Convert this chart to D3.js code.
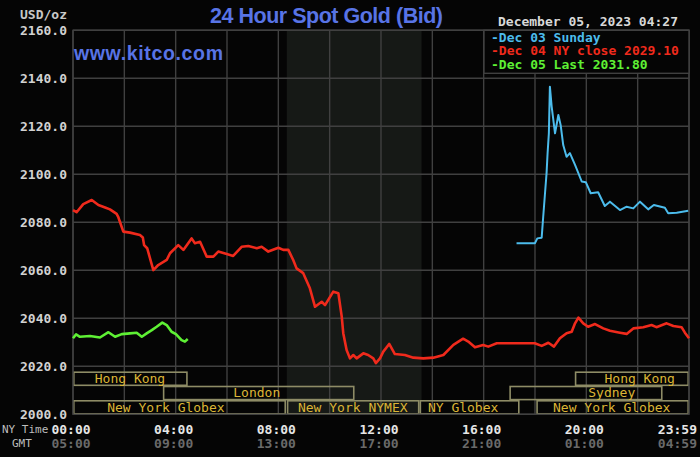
<!DOCTYPE html>
<html>
<head>
<meta charset="utf-8">
<script src="https://cdn.jsdelivr.net/npm/d3@7"></script>
<style>
  html, body { margin: 0; padding: 0; background: #050505; }
  svg { display: block; }
</style>
</head>
<body>
<div id="gold_chart"></div>
<script>
// Hours after midnight (NY time) and bid prices
var dec03Hours = [17.28, 18.0, 18.09, 18.26, 18.32, 18.39, 18.45, 18.49, 18.54, 18.58, 18.65, 18.78, 18.91, 19.0, 19.1, 19.23, 19.36, 19.56, 19.82, 19.98, 20.17, 20.46, 20.72, 20.92, 21.31, 21.57, 21.83, 22.09, 22.41, 22.63, 23.06, 23.19, 23.52, 23.97];
var dec03Values = [2071.3, 2071.3, 2073.3, 2073.6, 2082.3, 2092.1, 2100.4, 2108.8, 2117.1, 2136.5, 2128.2, 2117.1, 2124.7, 2120.5, 2112.2, 2107.3, 2108.8, 2103.9, 2097.0, 2096.7, 2092.1, 2092.5, 2086.8, 2088.6, 2085.1, 2086.5, 2085.8, 2088.6, 2085.4, 2087.2, 2086.1, 2083.8, 2084.0, 2084.8];

var dec04Hours = [0, 0.14, 0.40, 0.73, 0.99, 1.25, 1.44, 1.70, 1.76, 1.96, 2.22, 2.61, 2.72, 2.77, 2.89, 3.13, 3.32, 3.65, 3.78, 4.10, 4.30, 4.62, 4.75, 4.95, 5.21, 5.47, 5.66, 5.99, 6.24, 6.57, 6.83, 7.16, 7.35, 7.61, 8.00, 8.19, 8.39, 8.58, 8.71, 8.97, 9.23, 9.43, 9.69, 9.82, 10.14, 10.34, 10.47, 10.53, 10.66, 10.79, 10.92, 11.05, 11.31, 11.50, 11.70, 11.80, 11.96, 12.09, 12.32, 12.54, 12.93, 13.26, 13.65, 14.04, 14.43, 14.82, 15.20, 15.40, 15.66, 15.98, 16.18, 16.51, 17.02, 17.41, 17.99, 18.26, 18.52, 18.74, 18.97, 19.23, 19.43, 19.56, 19.69, 19.88, 20.07, 20.34, 20.66, 20.92, 21.31, 21.57, 21.83, 22.22, 22.54, 22.73, 23.13, 23.39, 23.71, 23.84, 24.0];
var dec04Values = [2085.1, 2084.2, 2087.6, 2089.3, 2087.2, 2086.2, 2085.4, 2083.5, 2082.3, 2076.1, 2075.7, 2074.7, 2073.7, 2070.5, 2069.2, 2060.1, 2062.2, 2064.3, 2067.1, 2070.5, 2068.5, 2073.3, 2071.3, 2071.9, 2065.7, 2065.7, 2067.8, 2066.8, 2066.0, 2069.8, 2070.1, 2069.2, 2069.8, 2067.8, 2069.4, 2068.5, 2068.5, 2064.3, 2060.8, 2058.8, 2052.5, 2044.8, 2046.9, 2045.5, 2051.1, 2050.4, 2040.7, 2033.8, 2026.8, 2023.3, 2024.7, 2023.3, 2025.4, 2024.7, 2023.3, 2021.3, 2023.3, 2026.1, 2029.3, 2025.1, 2024.7, 2023.6, 2023.3, 2023.6, 2024.7, 2028.9, 2031.5, 2030.3, 2027.9, 2028.9, 2028.2, 2029.6, 2029.6, 2029.6, 2029.6, 2028.5, 2029.8, 2028.2, 2031.7, 2033.8, 2034.4, 2037.9, 2040.3, 2037.9, 2036.5, 2037.6, 2035.8, 2034.8, 2034.0, 2033.5, 2035.8, 2036.3, 2037.2, 2036.3, 2037.9, 2036.8, 2036.3, 2034.0, 2031.7];

var dec05Hours = [0, 0.12, 0.27, 0.66, 1.05, 1.38, 1.64, 1.90, 2.22, 2.48, 2.68, 2.87, 3.07, 3.26, 3.48, 3.65, 3.84, 4.01, 4.23, 4.36, 4.47];
var dec05Values = [2031.7, 2033.3, 2032.3, 2032.6, 2032.0, 2034.2, 2032.3, 2033.4, 2033.7, 2034.0, 2032.3, 2033.7, 2035.1, 2036.5, 2038.2, 2037.2, 2034.4, 2033.4, 2030.9, 2030.3, 2031.4];

// Legend entries
var legendLabels = ["-Dec 03 Sunday", "-Dec 04 NY close 2029.10", "-Dec 05 Last 2031.80"];

// Axis ticks
var yTicks = [2000, 2020, 2040, 2060, 2080, 2100, 2120, 2140, 2160];
var xTickHours = [0, 4, 8, 12, 16, 20, 24];
var nyTimeLabels = ["00:00", "04:00", "08:00", "12:00", "16:00", "20:00", "23:59"];
var gmtLabels = ["05:00", "09:00", "13:00", "17:00", "21:00", "01:00", "04:59"];

// Trading sessions: name, row (0 = bottom), start and end hour, hour where the name sits
var sessionNames = ["New York Globex", "New York NYMEX", "NY Globex", "New York Globex", "London", "Sydney", "Hong Kong", "Hong Kong"];
var sessionRows = [0, 0, 0, 0, 1, 1, 2, 2];
var sessionStarts = [0, 8.33, 13.5, 18.05, 3.5, 17.0, 0, 19.55];
var sessionEnds = [8.3, 13.5, 17.4, 24, 10.97, 22.97, 4.47, 24];
var sessionLabelHours = [3.62, 10.9, 15.2, 20.99, 7.16, 20.99, 2.22, 22.08];

// NYMEX pit hours shading
var pitStart = 8.33;
var pitEnd = 13.58;

var w = 700;
var h = 457;
var plotLeft = 73, plotRight = 689, plotTop = 30.3, plotBottom = 414.3;
var mono = "'DejaVu Sans Mono', monospace";

var svg = d3.select("#gold_chart")
    .append("svg")
    .attr("width", w)
    .attr("height", h);

svg.append("rect")
    .attr("width", w)
    .attr("height", h)
    .attr("fill", "#050505");

var xScale = d3.scaleLinear()
    .domain([0, 24])
    .range([plotLeft, plotRight]);

var yScale = d3.scaleLinear()
    .domain([2000, 2160])
    .range([plotBottom, plotTop]);

// Shaded pit session
svg.append("rect")
    .attr("x", xScale(pitStart))
    .attr("y", plotTop)
    .attr("width", xScale(pitEnd) - xScale(pitStart))
    .attr("height", plotBottom - plotTop)
    .attr("fill", "#161916");

// Grid
svg.append("g")
    .selectAll("line")
    .data(d3.range(0, 25, 2))
    .enter()
    .append("line")
    .attr("x1", d => xScale(d))
    .attr("x2", d => xScale(d))
    .attr("y1", plotTop)
    .attr("y2", plotBottom)
    .attr("stroke", "#404040")
    .attr("stroke-width", 1.4);

svg.append("g")
    .selectAll("line")
    .data(yTicks)
    .enter()
    .append("line")
    .attr("x1", plotLeft)
    .attr("x2", plotRight)
    .attr("y1", d => yScale(d))
    .attr("y2", d => yScale(d))
    .attr("stroke", "#404040")
    .attr("stroke-width", 1.4);

// Y axis labels
var yAxis = svg.append("g")
    .attr("transform", `translate(${plotLeft},0)`)
    .call(d3.axisLeft(yScale).tickValues(yTicks).tickSize(0).tickPadding(6).tickFormat(d3.format(".1f")));
yAxis.select(".domain").remove();
yAxis.selectAll("text")
    .attr("fill", "#d2d2d2")
    .style("font-family", mono)
    .style("font-weight", "bold")
    .style("font-size", "13px");

svg.append("text")
    .attr("x", 67)
    .attr("y", 19)
    .attr("text-anchor", "end")
    .attr("fill", "#c8c8c8")
    .style("font-family", mono)
    .style("font-weight", "bold")
    .style("font-size", "13px")
    .text("USD/oz");

// Session boxes
var rowH = 14.3;
var sessions = sessionNames.map((n, i) => ({
    name: n, row: sessionRows[i], start: sessionStarts[i], end: sessionEnds[i], at: sessionLabelHours[i]
}));

var sessionG = svg.append("g")
    .selectAll("g")
    .data(sessions)
    .enter()
    .append("g");

sessionG.append("rect")
    .attr("x", d => xScale(d.start) + 0.8)
    .attr("y", d => plotBottom - (d.row + 1) * rowH + 0.8)
    .attr("width", d => xScale(d.end) - xScale(d.start) - 1.6)
    .attr("height", rowH - 1.2)
    .attr("fill", "none")
    .attr("stroke", "#8e8c66")
    .attr("stroke-width", 1.6);

sessionG.append("text")
    .attr("x", d => xScale(d.at))
    .attr("y", d => plotBottom - (d.row + 0.5) * rowH + 1)
    .attr("text-anchor", "middle")
    .attr("dominant-baseline", "middle")
    .attr("fill", "#dcb535")
    .style("font-family", mono)
    .style("font-size", "13px")
    .text(d => d.name);

// Plot border
svg.append("rect")
    .attr("x", plotLeft)
    .attr("y", plotTop)
    .attr("width", plotRight - plotLeft)
    .attr("height", plotBottom - plotTop)
    .attr("fill", "none")
    .attr("stroke", "#404040")
    .attr("stroke-width", 1.4);

// Price lines
var line = d3.line()
    .x(d => xScale(d[0]))
    .y(d => yScale(d[1]));

var seriesList = [
    { hours: dec03Hours, values: dec03Values, color: "#4cbcec", width: 2 },
    { hours: dec04Hours, values: dec04Values, color: "#f02a1c", width: 2.6 },
    { hours: dec05Hours, values: dec05Values, color: "#5ef034", width: 2.6 }
];

svg.append("g")
    .selectAll("path")
    .data(seriesList)
    .enter()
    .append("path")
    .attr("d", d => line(d.hours.map((t, i) => [t, d.values[i]])))
    .attr("fill", "none")
    .attr("stroke", d => d.color)
    .attr("stroke-width", d => d.width)
    .attr("stroke-linejoin", "round");

// Legend
svg.append("rect")
    .attr("x", 484)
    .attr("y", plotTop)
    .attr("width", plotRight - 484)
    .attr("height", 43)
    .attr("fill", "#050505")
    .attr("stroke", "#404040")
    .attr("stroke-width", 1.4);

svg.append("g")
    .selectAll("text")
    .data(legendLabels)
    .enter()
    .append("text")
    .attr("x", 491)
    .attr("y", (d, i) => 41.5 + i * 13.9)
    .attr("fill", (d, i) => seriesList[i].color)
    .style("font-family", mono)
    .style("font-weight", "bold")
    .style("font-size", "13px")
    .text(d => d);

// Titles
svg.append("text")
    .attr("x", 210)
    .attr("y", 23)
    .attr("textLength", 233)
    .attr("lengthAdjust", "spacing")
    .attr("fill", "#5874e6")
    .style("font-family", "'Liberation Sans', Arial, sans-serif")
    .style("font-weight", "bold")
    .style("font-size", "21.5px")
    .text("24 Hour Spot Gold (Bid)");

svg.append("text")
    .attr("x", 74)
    .attr("y", 60)
    .attr("textLength", 149)
    .attr("lengthAdjust", "spacing")
    .attr("fill", "#5874e6")
    .style("font-family", "'Liberation Sans', Arial, sans-serif")
    .style("font-weight", "bold")
    .style("font-size", "19.5px")
    .text("www.kitco.com");

svg.append("text")
    .attr("x", 678)
    .attr("y", 26)
    .attr("text-anchor", "end")
    .attr("fill", "#d8d8d8")
    .style("font-family", mono)
    .style("font-weight", "bold")
    .style("font-size", "13px")
    .text("December 05, 2023 04:27");

// X axis labels (NY time and GMT)
var xLab = svg.append("g");
xLab.selectAll(".ny")
    .data(xTickHours)
    .enter()
    .append("text")
    .attr("class", "ny")
    .attr("x", (d, i) => i === xTickHours.length - 1 ? 697 : xScale(d) - 2)
    .attr("y", 434)
    .attr("text-anchor", (d, i) => i === xTickHours.length - 1 ? "end" : "middle")
    .attr("fill", "#e6e6e6")
    .style("font-family", mono)
    .style("font-weight", "bold")
    .style("font-size", "13px")
    .text((d, i) => nyTimeLabels[i]);

xLab.selectAll(".gmt")
    .data(xTickHours)
    .enter()
    .append("text")
    .attr("class", "gmt")
    .attr("x", (d, i) => i === xTickHours.length - 1 ? 697 : xScale(d) - 2)
    .attr("y", 448)
    .attr("text-anchor", (d, i) => i === xTickHours.length - 1 ? "end" : "middle")
    .attr("fill", "#6a6a6a")
    .style("font-family", mono)
    .style("font-weight", "bold")
    .style("font-size", "13px")
    .text((d, i) => gmtLabels[i]);

svg.append("text")
    .attr("x", 2)
    .attr("y", 433)
    .attr("fill", "#bdbdbd")
    .style("font-family", mono)
    .style("font-size", "11px")
    .text("NY Time");

svg.append("text")
    .attr("x", 12)
    .attr("y", 447)
    .attr("fill", "#bdbdbd")
    .style("font-family", mono)
    .style("font-size", "11px")
    .text("GMT");
</script>
</body>
</html>
